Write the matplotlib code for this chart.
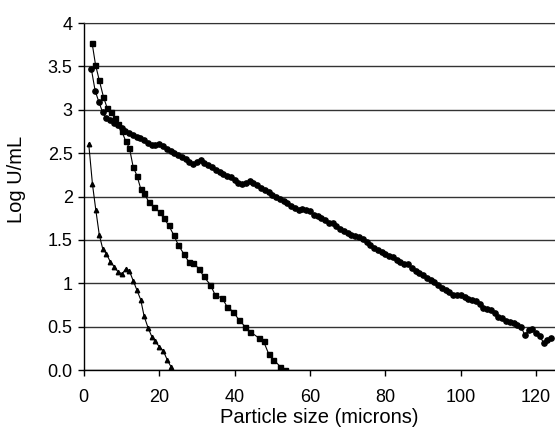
import matplotlib.pyplot as plt

plt.rcParams['font.family'] = ['Liberation Sans', 'DejaVu Sans']

# circles (largest size range)
circ_x = [2, 3, 4, 5, 6, 7, 8, 9, 10, 11, 12, 13, 14, 15, 16, 17, 18, 19, 20,
          21, 22, 23, 24, 25, 26, 27, 28, 29, 30, 31, 32, 33, 34, 35, 36, 37,
          38, 39, 40, 41, 42, 43, 44, 45, 46, 47, 48, 49, 50, 51, 52, 53, 54,
          55, 56, 57, 58, 59, 60, 61, 62, 63, 64, 65, 66, 67, 68, 69, 70, 71,
          72, 73, 74, 75, 76, 77, 78, 79, 80, 81, 82, 83, 84, 85, 86, 87, 88,
          89, 90, 91, 92, 93, 94, 95, 96, 97, 98, 99, 100, 101, 102, 103, 104,
          105, 106, 107, 108, 109, 110, 111, 112, 113, 114, 115, 116, 117, 118,
          119, 120, 121, 122, 123, 124]
circ_y = [3.47, 3.22, 3.09, 2.97, 2.90, 2.88, 2.85, 2.82, 2.79, 2.76, 2.73,
          2.71, 2.69, 2.67, 2.65, 2.62, 2.59, 2.59, 2.61, 2.58, 2.55, 2.53,
          2.50, 2.48, 2.45, 2.43, 2.40, 2.38, 2.40, 2.42, 2.39, 2.36, 2.34,
          2.31, 2.28, 2.26, 2.24, 2.22, 2.19, 2.16, 2.14, 2.15, 2.18, 2.16,
          2.13, 2.10, 2.08, 2.05, 2.02, 2.00, 1.97, 1.95, 1.92, 1.89, 1.87,
          1.85, 1.86, 1.85, 1.83, 1.79, 1.77, 1.75, 1.73, 1.70, 1.69, 1.66,
          1.62, 1.60, 1.58, 1.56, 1.55, 1.53, 1.51, 1.47, 1.44, 1.41, 1.38,
          1.36, 1.34, 1.32, 1.30, 1.27, 1.24, 1.22, 1.22, 1.18, 1.14, 1.12,
          1.09, 1.06, 1.04, 1.01, 0.98, 0.95, 0.92, 0.90, 0.86, 0.86, 0.87,
          0.84, 0.82, 0.81, 0.79, 0.76, 0.72, 0.70, 0.69, 0.66, 0.61, 0.60,
          0.57, 0.55, 0.54, 0.52, 0.50, 0.40, 0.46, 0.47, 0.43, 0.39, 0.31,
          0.35, 0.37]

# squares
sq_x = [2.2, 3.1, 4.1, 5.2, 6.2, 7.2, 8.2, 9.1, 10.1, 11.1, 12.1, 13.1, 14.1,
        15.1, 16.0, 17.2, 18.5, 20.1, 21.2, 22.5, 23.8, 25.1, 26.5, 27.8,
        29.1, 30.5, 31.8, 33.6, 34.9, 36.7, 38.0, 39.7, 41.1, 42.8, 44.2,
        46.4, 47.7, 49.0, 50.3, 52.1, 53.4]
sq_y = [3.77, 3.52, 3.34, 3.15, 3.02, 2.97, 2.91, 2.84, 2.75, 2.64, 2.56,
        2.34, 2.24, 2.09, 2.04, 1.94, 1.88, 1.82, 1.75, 1.67, 1.56, 1.44,
        1.34, 1.25, 1.23, 1.17, 1.08, 0.98, 0.86, 0.83, 0.73, 0.67, 0.58,
        0.50, 0.44, 0.37, 0.33, 0.19, 0.12, 0.04, 0.00]

# triangles
tri_x = [1.3, 2.3, 3.2, 4.1, 5.0, 6.0, 7.0, 8.1, 9.1, 10.2, 11.2, 12.1, 13.1,
         14.1, 15.1, 16.0, 17.1, 18.1, 19.0, 20.0, 21.1, 22.1, 23.1, 24.1]
tri_y = [2.61, 2.14, 1.84, 1.56, 1.40, 1.34, 1.25, 1.19, 1.13, 1.11, 1.17,
         1.14, 1.03, 0.92, 0.81, 0.62, 0.48, 0.38, 0.33, 0.27, 0.22, 0.12,
         0.04, -0.10]

yticks = [0, 0.5, 1, 1.5, 2, 2.5, 3, 3.5, 4]
yticklabels = ['0.0', '0.5', '1', '1.5', '2', '2.5', '3', '3.5', '4']
xticks = [0, 20, 40, 60, 80, 100, 120]

fig = plt.figure(figsize=(5.55, 4.30), dpi=100)
ax = fig.add_axes([0.151, 0.1395, 0.849, 0.807])

ax.plot(circ_x, circ_y, color='black', lw=0.8, marker='o', ms=3.8)
ax.plot(sq_x, sq_y, color='black', lw=0.8, marker='s', ms=3.6)
ax.plot(tri_x, tri_y, color='black', lw=0.8, marker='^', ms=3.2)

ax.set_xlim(0, 125)
ax.set_ylim(0, 4)
ax.set_xticks(xticks)
ax.set_yticks(yticks)
ax.set_yticklabels(yticklabels)
ax.yaxis.grid(True, color='#333333', lw=1.0)
ax.set_axisbelow(True)

ax.spines['right'].set_visible(False)
ax.spines['top'].set_color('#333333')
ax.spines['left'].set_linewidth(1.0)
ax.spines['bottom'].set_linewidth(1.0)
ax.tick_params(axis='x', direction='out', length=4.3, width=1, labelsize=13, pad=9.5)
ax.tick_params(axis='y', direction='out', length=4, width=1, labelsize=13, pad=4)

ax.set_xlabel('Particle size (microns)', fontsize=14.5, labelpad=1.5)
ax.set_ylabel('Log U/mL', fontsize=14.5)
ax.yaxis.set_label_coords(-0.123, 0.55)

fig.savefig('out.png', dpi=100)
